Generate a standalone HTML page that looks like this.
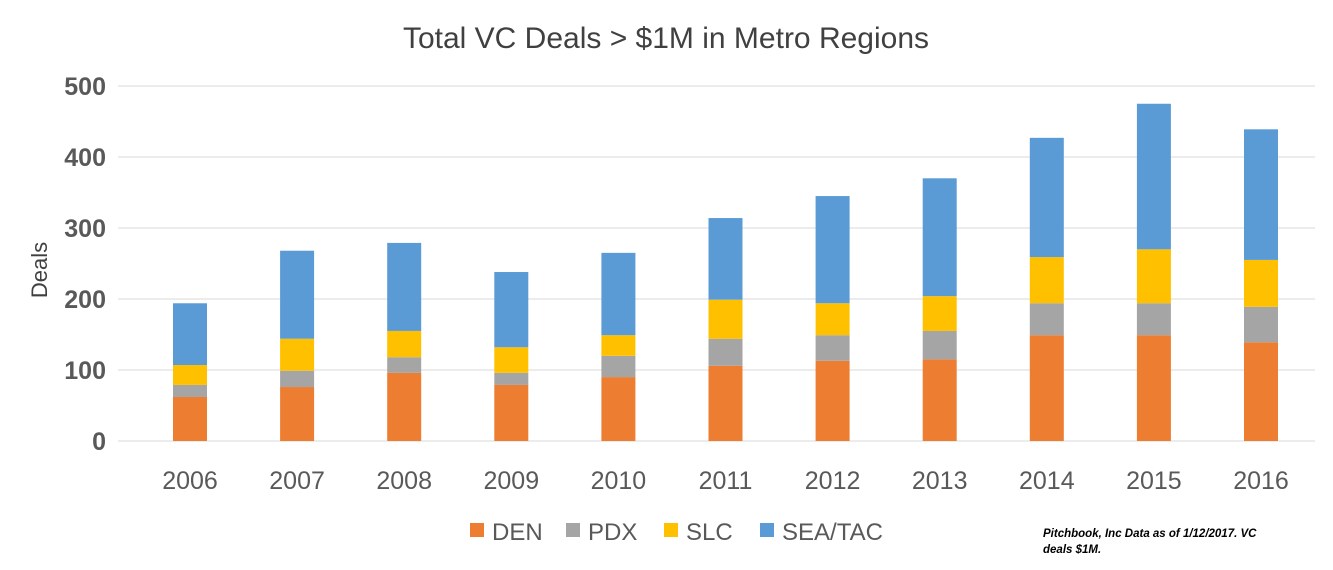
<!DOCTYPE html>
<html><head><meta charset="utf-8"><style>
body{margin:0;background:#fff;}
svg text{font-family:"Liberation Sans",sans-serif;}
</style></head><body>
<svg id="chart" width="1333" height="565" xmlns="http://www.w3.org/2000/svg">
<text x="666" y="48" text-anchor="middle" font-size="30" fill="#404040">Total VC Deals &gt; $1M in Metro Regions</text>
<g id="grid"></g>
<g id="yticks"></g>
<text transform="translate(47,270) rotate(-90)" text-anchor="middle" font-size="22" fill="#404040">Deals</text>
<g id="bars"></g>
<g id="xticks"></g>
<g id="legend"></g>
<text font-size="11.5" font-style="italic" font-weight="bold" fill="#000"><tspan x="1043" y="537">Pitchbook,  Inc Data as of 1/12/2017. VC</tspan><tspan x="1043" y="553">deals $1M.</tspan></text>
</svg>
<script>
const categories=["2006","2007","2008","2009","2010","2011","2012","2013","2014","2015","2016"];
const seriesNames=["DEN","PDX","SLC","SEA/TAC"];
const den=[62,76,96,79,90,106,113,115,149,149,139];
const pdx=[17,23,22,17,30,38,36,40,45,45,50];
const slc=[28,45,37,36,29,55,45,49,65,76,66];
const sea=[87,124,124,106,116,115,151,166,168,205,184];
const yTicks=[0,100,200,300,400,500];
const colors=["#ED7D31","#A5A5A5","#FFC000","#5B9BD5"];
const NS="http://www.w3.org/2000/svg";
const y0=441,yScale=355/500,xL=118,xR=1315;
const y=v=>y0-v*yScale;
const step=107.1;
const xc=i=>190+step*i;
function mk(t,a,p){const e=document.createElementNS(NS,t);for(const k in a)e.setAttribute(k,a[k]);p.appendChild(e);return e;}
const grid=document.getElementById('grid'),yt=document.getElementById('yticks');
yTicks.forEach(v=>{
 const l=mk('line',{x1:xL,x2:xR,y1:y(v),y2:y(v),stroke:"#D9D9D9","stroke-width":1},grid);
 
 
 const t=mk('text',{x:106,y:y(v)+9,"text-anchor":"end","font-size":25,"font-weight":"bold",fill:"#595959"},yt);
 t.textContent=v;
 
 
});
const bars=document.getElementById('bars'),xt=document.getElementById('xticks');
const data=[den,pdx,slc,sea];
categories.forEach((c,i)=>{
 let cum=0;
 data.forEach((s,j)=>{
  const r=mk('rect',{x:xc(i)-17,width:34,y:y(cum+s[i]),height:s[i]*yScale,fill:colors[j]},bars);
  
  
  cum+=s[i];
 });
 const t=mk('text',{x:xc(i),y:489,"text-anchor":"middle","font-size":25,fill:"#595959"},xt);
 t.textContent=c;
 
 
});
const lg=document.getElementById('legend');
const lx=[470,566,664,760];
seriesNames.forEach((n,j)=>{
 const r=mk('rect',{x:lx[j],y:523,width:14,height:14,fill:colors[j]},lg);
 
 
 const t=mk('text',{x:lx[j]+22,y:540,"font-size":24,fill:"#595959"},lg);
 t.textContent=n;
 
 
});
</script>
</body></html>
